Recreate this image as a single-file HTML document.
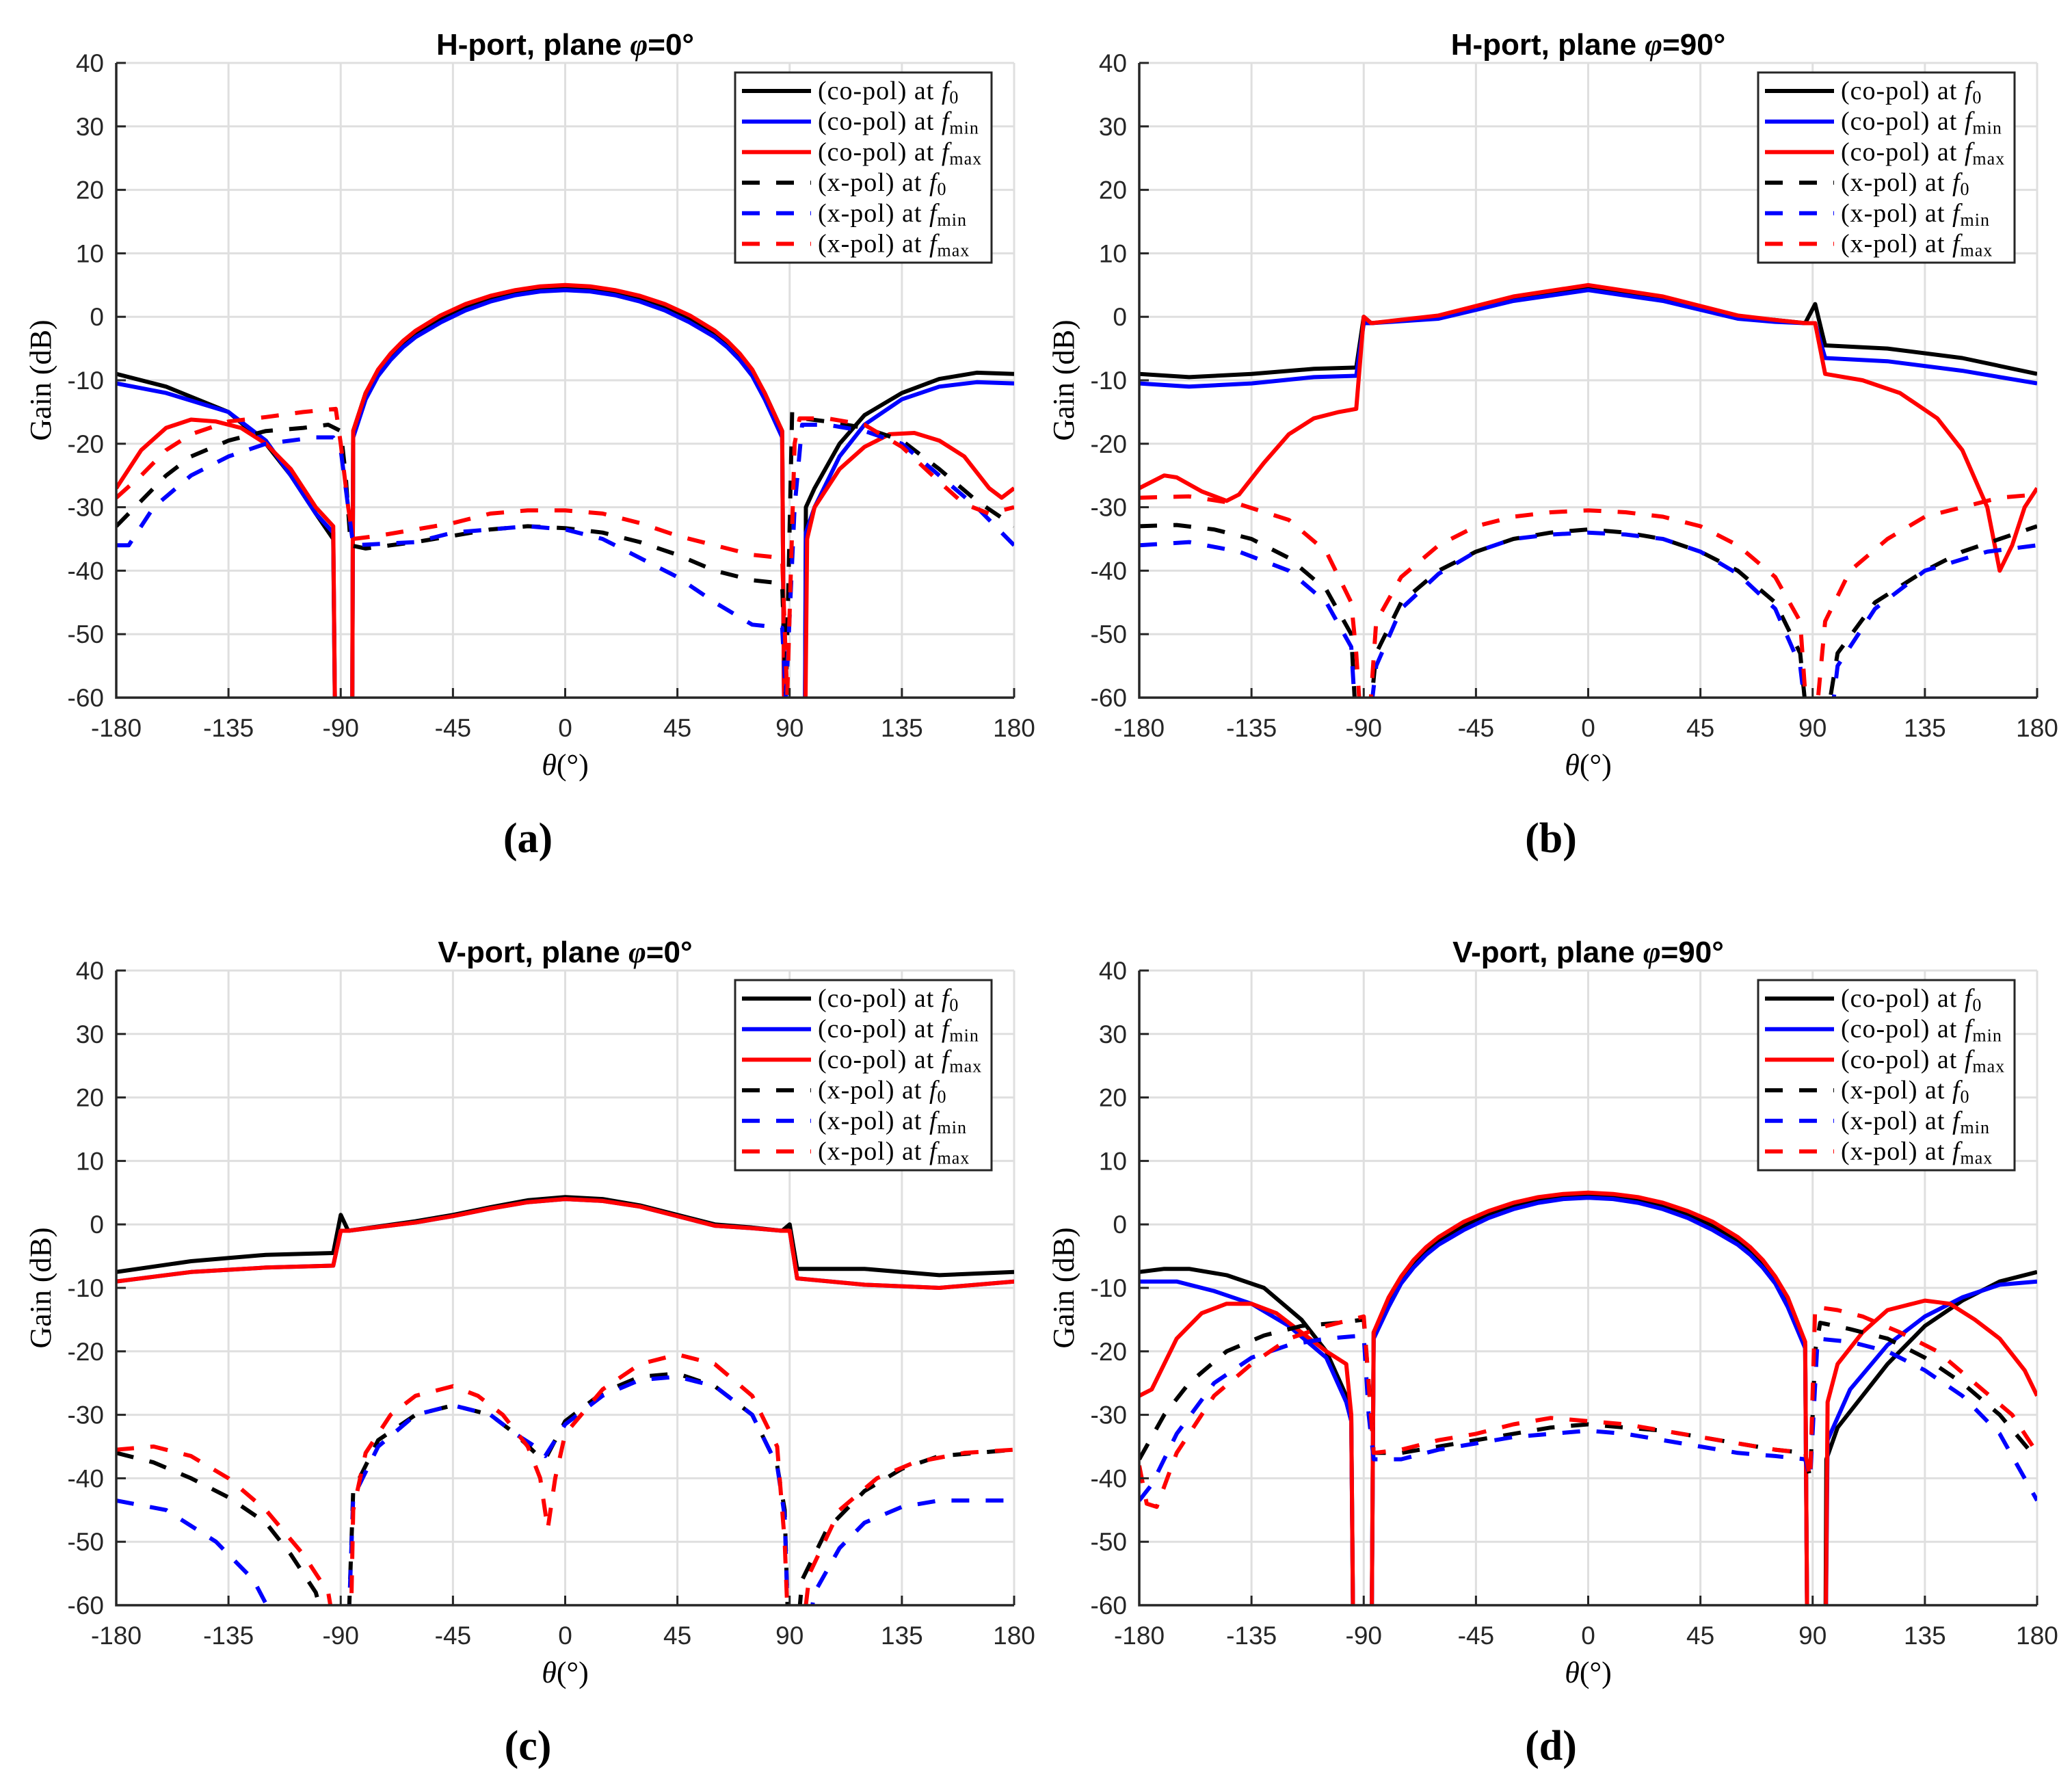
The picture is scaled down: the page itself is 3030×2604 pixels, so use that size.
<!DOCTYPE html>
<html><head><meta charset="utf-8">
<style>
html,body{margin:0;padding:0;background:#fff;}
svg{display:block;}
.tk{font-family:"Liberation Sans",sans-serif;font-size:37px;fill:#262626;}
.ttl{font-family:"Liberation Sans",sans-serif;font-size:44px;font-weight:bold;fill:#000;}
.srf{font-family:"Liberation Serif",serif;fill:#000;}
</style></head>
<body>
<svg id="fig" width="3030" height="2604" viewBox="0 0 3030 2604" xmlns="http://www.w3.org/2000/svg"></svg>
<script>
const xTicks = [-180,-135,-90,-45,0,45,90,135,180];
const yTicks = [40,30,20,10,0,-10,-20,-30,-40,-50,-60];
const seriesNames = ["(co-pol) at f0","(co-pol) at fmin","(co-pol) at fmax","(x-pol) at f0","(x-pol) at fmin","(x-pol) at fmax"];

// Panel a: H-port, phi=0
const aCoF0T = [-180,-160,-135,-120,-110,-100,-93,-92,-85.5,-85,-80,-75,-70,-65,-60,-50,-40,-30,-20,-10,0,10,20,30,40,50,60,65,70,75,80,87,88,96,96.5,100,110,120,135,150,165,180];
const aCoF0  = [-9,-11,-15,-20,-25,-31,-35,-75,-75,-18,-12,-8.5,-6,-4,-2.5,-0.3,1.6,3,4,4.6,4.8,4.6,4,3,1.6,-0.3,-2.5,-4,-6,-8.5,-12,-18,-75,-75,-30,-27,-20,-15.5,-12,-9.8,-8.8,-9];
const aCoFminT = [-180,-160,-135,-120,-110,-100,-93,-92,-85.5,-85,-80,-75,-70,-65,-60,-50,-40,-30,-20,-10,0,10,20,30,40,50,60,65,70,75,80,87,88,96,96.5,100,110,120,135,150,165,180];
const aCoFmin  = [-10.5,-12,-15,-19.5,-25,-31,-34,-75,-75,-19,-13,-9.3,-6.8,-4.8,-3.2,-0.9,1,2.4,3.4,4,4.2,4,3.4,2.4,1,-0.9,-3.2,-4.8,-6.8,-9.3,-13,-19,-75,-75,-34,-30,-22,-17,-13,-11,-10.3,-10.5];
const aCoFmaxT = [-180,-170,-160,-150,-140,-130,-120,-110,-100,-93,-92,-85.5,-85,-80,-75,-70,-65,-60,-50,-40,-30,-20,-10,0,10,20,30,40,50,60,65,70,75,80,87,88,96,97,100,110,120,130,140,150,160,170,175,180];
const aCoFmax  = [-27,-21,-17.5,-16.2,-16.5,-17.5,-20,-24,-30,-33,-75,-75,-18,-12,-8.3,-5.8,-3.8,-2.2,0.2,2,3.3,4.2,4.8,5,4.8,4.2,3.3,2,0.2,-2.2,-3.8,-5.8,-8.3,-12,-18,-75,-75,-35,-30,-24,-20.5,-18.5,-18.3,-19.5,-22,-27,-28.5,-27];
const aXF0T = [-180,-170,-160,-150,-135,-120,-105,-95,-90,-88,-86,-80,-60,-45,-30,-15,0,15,30,45,60,75,87,88.5,91,95,105,120,135,150,165,180];
const aXF0  = [-33,-29,-25,-22,-19.5,-18,-17.5,-17,-18,-25,-36,-36.5,-35.5,-34.5,-33.5,-33,-33.3,-34,-35.5,-37.5,-40,-41.5,-42,-60,-15,-16,-16.5,-17.5,-19.5,-24,-29,-33];
const aXFminT = [-180,-175,-165,-150,-135,-120,-100,-93,-90,-87,-85,-60,-45,-30,-15,0,15,30,45,60,75,87,88.5,92,95,105,120,135,150,165,180];
const aXFmin  = [-36,-36,-30,-25,-22,-20,-19,-19,-21,-30,-36,-35.5,-34,-33.5,-33,-33.5,-35,-38,-41,-45,-48.5,-49,-60,-30,-17,-17,-18,-20,-25,-30,-36];
const aXFmaxT = [-180,-170,-160,-150,-135,-120,-105,-92,-90,-87,-85,-75,-60,-45,-30,-15,0,15,30,45,60,75,87,89,92,94,105,120,135,150,160,170,180];
const aXFmax  = [-28.5,-25,-21,-18.5,-16.5,-15.8,-15,-14.5,-20,-30,-35,-34.5,-33.5,-32.5,-31,-30.5,-30.5,-31,-32.5,-34.5,-36,-37.5,-38,-60,-20,-16,-16,-17,-20.5,-26,-29.5,-31,-30];

// Panel b: H-port, phi=90
const bCoF0T = [-180,-160,-135,-110,-93,-90,-87,-60,-30,0,30,60,75,87,91,95,120,150,180];
const bCoF0  = [-9,-9.5,-9,-8.2,-8,0,-1,0,3,4.8,3,0,-0.5,-1,2,-4.5,-5,-6.5,-9];
const bCoFminT = [-180,-160,-135,-110,-93,-90,-87,-60,-30,0,30,60,75,87,91,95,120,150,180];
const bCoFmin  = [-10.5,-11,-10.5,-9.5,-9.3,-1,-1,-0.3,2.5,4.2,2.5,-0.3,-0.8,-1,-1,-6.5,-7,-8.5,-10.5];
const bCoFmaxT = [-180,-170,-165,-155,-145,-140,-130,-120,-110,-100,-93,-90,-87,-60,-30,0,30,60,75,87,91,95,110,125,140,150,160,165,170,175,180];
const bCoFmax  = [-27,-25,-25.3,-27.5,-29,-28,-23,-18.5,-16,-15,-14.5,0,-1,0.2,3.2,5,3.2,0.2,-0.5,-1,-1,-9,-10,-12,-16,-21,-30,-40,-36,-30,-27];
const bXF0T = [-180,-165,-150,-135,-120,-105,-95,-93,-88,-85,-75,-60,-45,-30,-15,0,15,30,45,60,75,85,88,95,100,115,135,150,165,180];
const bXF0  = [-33,-32.8,-33.5,-35,-38,-43,-50,-65,-65,-53,-45,-40,-37,-35,-34,-33.5,-34,-35,-37,-40,-45,-53,-65,-65,-53,-45,-40,-37,-35,-33];
const bXFminT = [-180,-160,-140,-120,-105,-95,-93,-88,-85,-75,-60,-45,-30,-15,0,15,30,45,60,75,85,88,97,100,115,135,160,180];
const bXFmin  = [-36,-35.5,-37,-40,-45,-52,-65,-65,-55,-46,-40.5,-37,-35,-34.3,-34,-34.3,-35,-37,-40.5,-46,-55,-65,-65,-55,-46,-40,-37,-36];
const bXFmaxT = [-180,-160,-140,-120,-105,-95,-93,-91,-88,-85,-75,-60,-45,-30,-15,0,15,30,45,60,75,85,88,91,95,105,120,135,150,165,180];
const bXFmax  = [-28.5,-28.3,-29.5,-32,-37,-45,-53,-65,-65,-48,-41,-36,-33,-31.5,-30.8,-30.5,-30.8,-31.5,-33,-36,-41,-48,-65,-65,-48,-40,-35,-31.5,-30,-28.5,-28];

// Panel c: V-port, phi=0
const cCoF0T = [-180,-150,-120,-93,-90,-87,-60,-45,-30,-15,0,15,30,45,60,75,87,90,93,120,150,180];
const cCoF0  = [-7.5,-5.8,-4.8,-4.5,1.5,-1,0.5,1.5,2.7,3.8,4.3,4,3,1.5,0,-0.5,-1,0,-7,-7,-8,-7.5];
const cCoFminT = [-180,-150,-120,-93,-90,-87,-60,-45,-30,-15,0,15,30,45,60,75,87,90,93,120,150,180];
const cCoFmin  = [-9,-7.5,-6.8,-6.5,-1,-1,0.3,1.3,2.5,3.5,4,3.7,2.8,1.3,-0.2,-0.6,-1,-1,-8.5,-9.5,-10,-9];
const cCoFmaxT = [-180,-150,-120,-93,-90,-87,-60,-45,-30,-15,0,15,30,45,60,75,87,90,93,120,150,180];
const cCoFmax  = [-9,-7.5,-6.8,-6.5,-1,-1,0.3,1.3,2.5,3.5,4,3.7,2.8,1.3,-0.2,-0.6,-1,-1,-8.5,-9.5,-10,-9];
const cXF0T = [-180,-165,-150,-135,-120,-110,-100,-95,-87,-85,-75,-60,-45,-30,-20,-12,-8,0,15,30,45,60,75,85,88,89.5,93,95,105,120,135,150,165,180];
const cXF0  = [-36,-37.5,-40,-43,-47,-52,-58,-65,-65,-42,-34,-30,-28.5,-30,-33,-36,-37,-31,-26.5,-24,-23.5,-25.5,-30,-38,-45,-65,-65,-56,-48,-42,-38.5,-36.5,-36,-35.5];
const cXFminT = [-180,-160,-140,-125,-113,-87,-85,-75,-60,-45,-30,-20,-12,-8,0,15,30,45,60,75,85,88,89.5,97,100,110,120,135,150,180];
const cXFmin  = [-43.5,-45,-50,-56,-65,-65,-43,-35,-30,-28.5,-30,-33,-35,-36.5,-31.5,-27,-24.5,-24,-25.5,-30,-38,-46,-65,-65,-58,-51,-47,-44.5,-43.5,-43.5];
const cXFmaxT = [-180,-165,-150,-135,-120,-105,-95,-92,-86,-85,-80,-70,-60,-45,-35,-25,-15,-10,-7,-4,0,15,30,45,60,75,85,88,89.5,95,98,110,125,140,160,180];
const cXFmax  = [-35.5,-35,-36.5,-40,-45,-52,-58,-65,-65,-45,-36,-30,-27,-25.5,-27,-30,-35,-40,-48,-40,-33,-26,-22,-20.5,-22,-27,-35,-50,-65,-65,-55,-45,-40,-37.5,-36,-35.5];

// Panel d: V-port, phi=90
const dCoF0T = [-180,-170,-160,-145,-130,-115,-105,-97,-95,-94,-87,-86,-80,-75,-70,-65,-60,-50,-40,-30,-20,-10,0,10,20,30,40,50,60,65,70,75,80,87,88,95,95.5,100,110,120,135,150,165,180];
const dCoF0  = [-7.5,-7,-7,-8,-10,-15,-20,-27,-30,-75,-75,-17,-12,-8.5,-6,-4,-2.5,-0.3,1.6,3,4,4.6,4.8,4.6,4,3,1.6,-0.3,-2.5,-4,-6,-8.5,-12,-19,-75,-75,-37,-32,-27,-22,-16,-12,-9,-7.5];
const dCoFminT = [-180,-165,-150,-135,-120,-105,-97,-95,-94,-87,-86,-80,-75,-70,-65,-60,-50,-40,-30,-20,-10,0,10,20,30,40,50,60,65,70,75,80,87,88,95,96,105,120,135,150,165,180];
const dCoFmin  = [-9,-9,-10.5,-12.5,-16,-21,-28,-31,-75,-75,-18,-13,-9.3,-6.8,-4.8,-3.2,-0.9,1,2.4,3.4,4,4.2,4,3.4,2.4,1,-0.9,-3.2,-4.8,-6.8,-9.3,-13,-19.5,-75,-75,-34,-26,-19,-14.5,-11.5,-9.5,-9];
const dCoFmaxT = [-180,-175,-165,-155,-145,-135,-125,-115,-105,-97,-95,-94,-87,-86,-80,-75,-70,-65,-60,-50,-40,-30,-20,-10,0,10,20,30,40,50,60,65,70,75,80,87,88,95,96,100,110,120,135,145,155,165,175,180];
const dCoFmax  = [-27,-26,-18,-14,-12.5,-12.5,-14,-17,-20,-22,-30,-75,-75,-17,-11.5,-8.2,-5.6,-3.6,-2,0.4,2.1,3.4,4.3,4.8,5,4.8,4.3,3.4,2.1,0.4,-2,-3.6,-5.6,-8.2,-11.5,-18.5,-75,-75,-28,-22,-17,-13.5,-12,-12.5,-15,-18,-23,-27];
const dXF0T = [-180,-170,-160,-145,-130,-115,-100,-90,-88,-86,-75,-60,-45,-30,-15,0,15,30,45,60,75,87,89,91,93,105,120,135,150,165,180];
const dXF0  = [-37,-30,-25,-20,-17.5,-16,-15.5,-15,-25,-36,-36,-35,-34,-33,-32,-31.5,-32,-32.5,-33.5,-34.5,-35.5,-36,-40,-20,-15.5,-16.5,-18,-21,-25,-30,-37];
const dXFminT = [-180,-175,-165,-150,-135,-120,-105,-90,-88,-86,-75,-60,-45,-30,-15,0,15,30,45,60,75,87,89,92,105,120,135,150,165,180];
const dXFmin  = [-43.5,-41,-33,-25,-21,-19,-18,-17.5,-30,-37,-37,-35.5,-34.5,-33.5,-33,-32.5,-33,-34,-35,-36,-36.5,-37,-40,-18,-18.5,-20,-23,-27,-33,-43.5];
const dXFmaxT = [-180,-177,-173,-165,-150,-135,-120,-105,-90,-88,-86,-75,-60,-45,-30,-15,0,15,30,45,60,75,87,89,91,100,110,125,140,155,170,180];
const dXFmax  = [-38,-44,-44.5,-36,-27,-22,-18,-16,-14.5,-25,-36,-35.5,-34,-33,-31.5,-30.5,-31,-31.5,-32.5,-33.5,-34.5,-35.5,-36,-40,-13,-13.5,-14.5,-17,-20,-25,-30,-36];

const panels = [
  {id:'a', title:'H-port, plane ', x0:170, y0:92, s:[[aCoF0T,aCoF0],[aCoFminT,aCoFmin],[aCoFmaxT,aCoFmax],[aXF0T,aXF0],[aXFminT,aXFmin],[aXFmaxT,aXFmax]], deg:'0'},
  {id:'b', title:'H-port, plane ', x0:1666, y0:92, s:[[bCoF0T,bCoF0],[bCoFminT,bCoFmin],[bCoFmaxT,bCoFmax],[bXF0T,bXF0],[bXFminT,bXFmin],[bXFmaxT,bXFmax]], deg:'90'},
  {id:'c', title:'V-port, plane ', x0:170, y0:1419, s:[[cCoF0T,cCoF0],[cCoFminT,cCoFmin],[cCoFmaxT,cCoFmax],[cXF0T,cXF0],[cXFminT,cXFmin],[cXFmaxT,cXFmax]], deg:'0'},
  {id:'d', title:'V-port, plane ', x0:1666, y0:1419, s:[[dCoF0T,dCoF0],[dCoFminT,dCoFmin],[dCoFmaxT,dCoFmax],[dXF0T,dXF0],[dXFminT,dXFmin],[dXFmaxT,dXFmax]], deg:'90'}
];
const W = 1313, H = 928;
const colors = ['#000','#0000ff','#ff0000','#000','#0000ff','#ff0000'];
const NS = 'http://www.w3.org/2000/svg';
const svg = document.getElementById('fig');
function mk(tag, attrs, parent){
  const e = document.createElementNS(NS, tag);
  for (const k in attrs) e.setAttribute(k, attrs[k]);
  (parent||svg).appendChild(e);
  return e;
}
panels.forEach(p => {
  const xs = t => p.x0 + (t + 180) / 360 * W;
  const ys = g => p.y0 + (40 - g) / 100 * H;
  const g = mk('g', {});
  
  
  xTicks.forEach(t => { const l = mk('line', {x1:xs(t), x2:xs(t), y1:p.y0, y2:p.y0+H, stroke:'#dfdfdf', 'stroke-width':3}, g);
      });
  yTicks.forEach(v => { const l = mk('line', {x1:p.x0, x2:p.x0+W, y1:ys(v), y2:ys(v), stroke:'#dfdfdf', 'stroke-width':3}, g);
      });
  const cp = mk('clipPath', {id:'clip'+p.id}, g);
  mk('rect', {x:p.x0, y:p.y0, width:W, height:H}, cp);
  const sg = mk('g', {'clip-path':'url(#clip'+p.id+')'}, g);
  
  
  p.s.forEach((ser, i) => {
    const [T, G] = ser;
    const d = T.map((t, k) => (k ? 'L' : 'M') + xs(t).toFixed(1) + ',' + ys(G[k]).toFixed(1)).join('');
    const path = mk('path', {d:d, fill:'none', stroke:colors[i], 'stroke-width':6, 'stroke-linejoin':'round'}, sg);
    if (i >= 3) path.setAttribute('stroke-dasharray', '26 24');
    
    
  });
  const ax = mk('path', {d:`M${p.x0},${p.y0}V${p.y0+H}H${p.x0+W}`, fill:'none', stroke:'#262626', 'stroke-width':3.5}, g);
   
  xTicks.forEach(t => {
    mk('line', {x1:xs(t), x2:xs(t), y1:p.y0+H, y2:p.y0+H-14, stroke:'#262626', 'stroke-width':3}, g);
    const tx = mk('text', {x:xs(t), y:p.y0+H+57, 'text-anchor':'middle', class:'tk'}, g);
    tx.textContent = t;
     
  });
  yTicks.forEach(v => {
    mk('line', {x1:p.x0, x2:p.x0+14, y1:ys(v), y2:ys(v), stroke:'#262626', 'stroke-width':3}, g);
    const tx = mk('text', {x:p.x0-18, y:ys(v)+13, 'text-anchor':'end', class:'tk'}, g);
    tx.textContent = v;
     
  });
  const tt = mk('text', {x:p.x0+W/2, y:p.y0-12, 'text-anchor':'middle', class:'ttl'}, g);
  tt.innerHTML = p.title + '<tspan font-family="Liberation Serif" font-style="italic">φ</tspan>=' + p.deg + '°';
   
  const xl = mk('text', {x:p.x0+W/2, y:p.y0+H+113, 'text-anchor':'middle', class:'srf', 'font-size':44}, g);
  xl.innerHTML = '<tspan font-style="italic">θ</tspan>(°)';
   
  const yl = mk('text', {x:0, y:0, 'text-anchor':'middle', class:'srf', 'font-size':44, transform:`translate(${p.x0-96},${p.y0+H/2}) rotate(-90)`}, g);
  yl.textContent = 'Gain (dB)';
   
  const pl = mk('text', {x:p.x0+602, y:p.y0+1154, 'text-anchor':'middle', class:'srf', 'font-size':62, 'font-weight':'bold'}, g);
  pl.textContent = '(' + p.id + ')';
   
  const lx = p.x0 + 905, ly = p.y0 + 14;
  const lg = mk('g', {}, g);
   
  mk('rect', {x:lx, y:ly, width:375, height:278, fill:'#fff', stroke:'#262626', 'stroke-width':3}, lg);
  const subs = ['0','min','max','0','min','max'];
  const labs = ['(co-pol) at ','(co-pol) at ','(co-pol) at ','(x-pol) at ','(x-pol) at ','(x-pol) at '];
  for (let i = 0; i < 6; i++) {
    const ry = ly + 27 + i * 44.7;
    const e = mk('g', {}, lg);
     
    const ln = mk('line', {x1:lx+10, x2:lx+111, y1:ry, y2:ry, stroke:colors[i], 'stroke-width':6}, e);
    if (i >= 3) ln.setAttribute('stroke-dasharray', '26 24');
    const tx = mk('text', {x:lx+121, y:ry+12, class:'srf', 'font-size':38, 'letter-spacing':'1'}, e);
    tx.innerHTML = labs[i] + '<tspan font-style="italic">f</tspan><tspan font-size="26" dy="6">' + subs[i] + '</tspan>';
  }
});
</script>
</body></html>
